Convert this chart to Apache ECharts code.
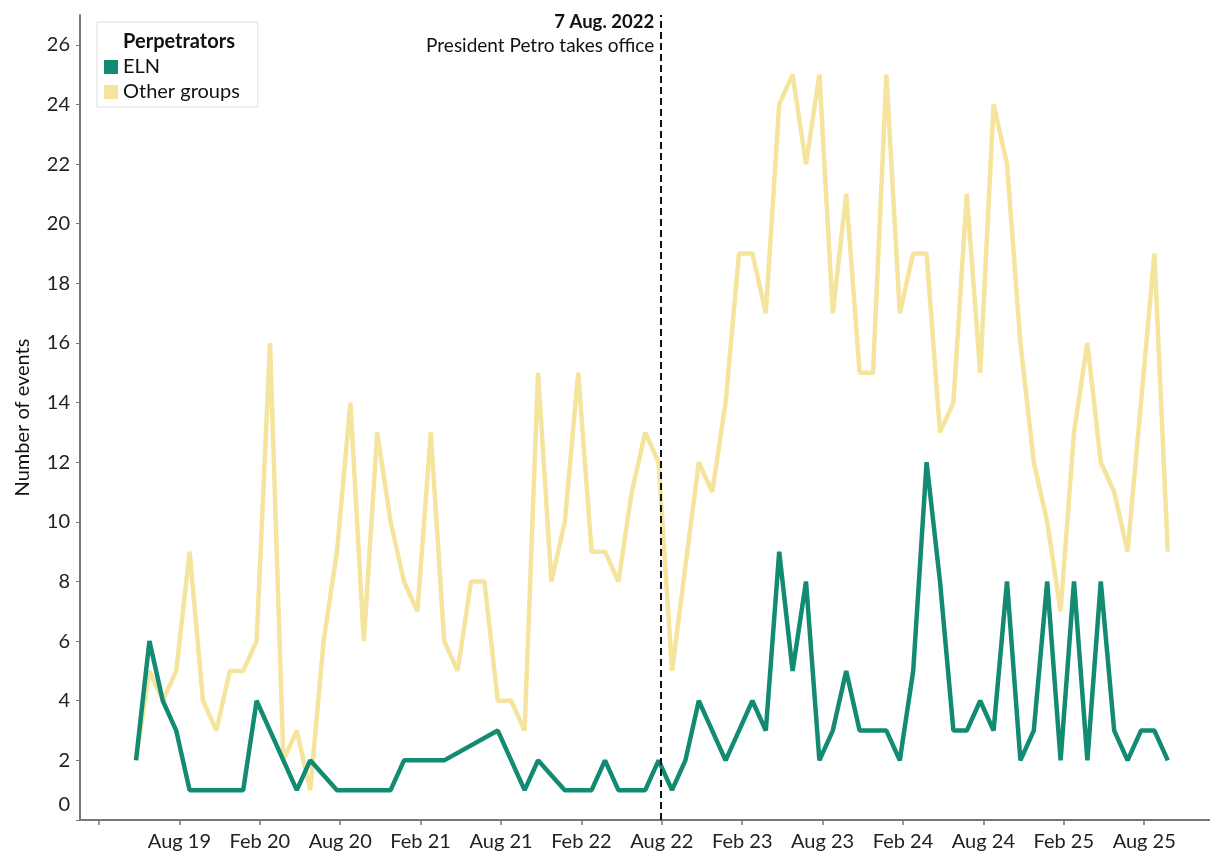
<!DOCTYPE html>
<html><head><meta charset="utf-8">
<script src="https://cdn.jsdelivr.net/npm/echarts@6/dist/echarts.min.js"></script>
<style>html,body{margin:0;padding:0;background:#fff}#chart{width:1210px;height:857px}</style>
</head><body><div id="chart"></div>
<script>
// ---- data ----
const months = [
 '2019-05','2019-06','2019-07','2019-08','2019-09','2019-10','2019-11','2019-12',
 '2020-01','2020-02','2020-03','2020-04','2020-05','2020-06','2020-07','2020-08','2020-09','2020-10','2020-11','2020-12',
 '2021-01','2021-02','2021-03','2021-04','2021-05','2021-06','2021-07','2021-08','2021-09','2021-10','2021-11','2021-12',
 '2022-01','2022-02','2022-03','2022-04','2022-05','2022-06','2022-07','2022-08','2022-09','2022-10','2022-11','2022-12',
 '2023-01','2023-02','2023-03','2023-04','2023-05','2023-06','2023-07','2023-08','2023-09','2023-10','2023-11','2023-12',
 '2024-01','2024-02','2024-03','2024-04','2024-05','2024-06','2024-07','2024-08','2024-09','2024-10','2024-11','2024-12',
 '2025-01','2025-02','2025-03','2025-04','2025-05','2025-06','2025-07','2025-08','2025-09','2025-10'
];
const eln = [2,6,4,3,1,1,1,1,1,4, 3,2,1,2,null,1,1,1,1,1, 2,2,2,2,null,null,null,3,2,1,
 2,null,1,1,1,2,1,1,1,2, 1,2,4,3,2,3,4,3,9,5, 8,2,3,5,3,3,3,2,5,12, 8,3,3,4,3,8,2,3,8,2, 8,2,8,3,2,3,3,2];
const otherGroups = [2,5,4,5,9,4,3,5,5,6, 16,2,3,1,6,9,14,6,13,10, 8,7,13,6,5,8,8,4,4,3,
 15,8,10,15,9,9,8,11,13,12, 5,null,12,11,14,19,19,17,24,25, 22,25,17,21,15,15,25,17,19,19,
 13,14,21,15,24,22,16,12,10,7, 13,16,12,11,9,14,19,9];
const tickMonths = ['2019-02','2019-08','2020-02','2020-08','2021-02','2021-08','2022-02','2022-08','2023-02','2023-08','2024-02','2024-08','2025-02','2025-08'];
const tickLabels = ['','Aug 19','Feb 20','Aug 20','Feb 21','Aug 21','Feb 22','Aug 22','Feb 23','Aug 23','Feb 24','Aug 24','Feb 25','Aug 25'];
const yTicks = [0,2,4,6,8,10,12,14,16,18,20,22,24,26];
const eventDate = '2022-08-07';
const eventTitle = '7 Aug. 2022';
const eventText = 'President Petro takes office';
const legendTitle = 'Perpetrators';

// ---- helpers ----
const TICK_SHIFT = 0.24;
function monthIdx(s){ const p = s.split('-'); return (+p[0]-2019)*12 + (+p[1]-5); }
const tickVals = tickMonths.map(m => monthIdx(m) + TICK_SHIFT);
const evP = eventDate.split('-');
const eventX = monthIdx(evP[0]+'-'+evP[1]) + (+evP[2]-1)/31;
const elnData = months.map((m,i)=>[monthIdx(m), eln[i]]);
const otherData = months.map((m,i)=>[monthIdx(m), otherGroups[i]]);

const TEAL = '#138a72', YELLOW = '#f5e49d';
const FONT = 'Lato';
const chart = echarts.init(document.getElementById('chart'));
chart.setOption({
  animation:false,
  backgroundColor:'#fff',
  grid:{left:80, right:0, top:15, bottom:37, containLabel:false},
  xAxis:{
    type:'value', min:-4.18, max:80.15,
    splitLine:{show:false},
    axisLine:{show:true, onZero:false, lineStyle:{color:'#777', width:2}},
    axisTick:{show:true, length:5, customValues:tickVals, lineStyle:{color:'#777', width:1.5}},
    axisLabel:{customValues:tickVals.slice(1), margin:12, color:'#222', fontFamily:FONT, fontSize:20,
      formatter:v=>{ const k = Math.round((v - tickVals[0])/6); return tickLabels[k] || ''; }}
  },
  yAxis:{
    type:'value', min:0, max:27,
    name:'Number of events', nameLocation:'middle', nameRotate:90, nameGap:47,
    nameTextStyle:{fontFamily:FONT, fontSize:20, color:'#111'},
    splitLine:{show:false},
    axisLine:{show:true, onZero:false, lineStyle:{color:'#777', width:2}},
    axisTick:{show:true, length:4, customValues:yTicks, lineStyle:{color:'#777'}},
    axisLabel:{customValues:yTicks, margin:10, color:'#222', fontFamily:FONT, fontSize:20,
      formatter:v=> v===0 ? '{z|0}' : String(v),
      rich:{z:{fontFamily:FONT, fontSize:20, color:'#222', padding:[0,0,30,0]}}}
  },
  legend:{
    data:['ELN','Other groups'], orient:'vertical', left:97, top:22,
    icon:'rect', itemWidth:14, itemHeight:14, itemGap:5,
    padding:[35,18,5,7], borderColor:'#ddd', borderWidth:1, backgroundColor:'#fff',
    textStyle:{fontFamily:FONT, fontSize:20, color:'#111'}
  },
  series:[
    {name:'Other groups', type:'line', data:otherData, showSymbol:false, connectNulls:true,
     color:YELLOW, itemStyle:{color:YELLOW}, lineStyle:{color:YELLOW, width:4.5}, z:2},
    {name:'ELN', type:'line', data:elnData, showSymbol:false, connectNulls:true,
     color:TEAL, itemStyle:{color:TEAL}, lineStyle:{color:TEAL, width:4.5}, z:3,
     markLine:{silent:true, symbol:'none', label:{show:false},
       lineStyle:{color:'#111', type:[7,4], width:2}, data:[{xAxis:eventX}]}}
  ]
});
const ex = chart.convertToPixel({xAxisIndex:0}, eventX);
chart.setOption({
  graphic:[
    {type:'text', x:179, y:42, style:{text:legendTitle, font:'bold 20px Lato', fill:'#111', align:'center', verticalAlign:'middle'}, z:100},
    {type:'text', x:ex-7, y:22, style:{text:eventTitle, font:'bold 18.5px Lato', fill:'#111', align:'right', verticalAlign:'middle'}, z:100},
    {type:'text', x:ex-7, y:46, style:{text:eventText, font:'19px Lato', fill:'#111', align:'right', verticalAlign:'middle'}, z:100}
  ]
});
</script></body></html>
